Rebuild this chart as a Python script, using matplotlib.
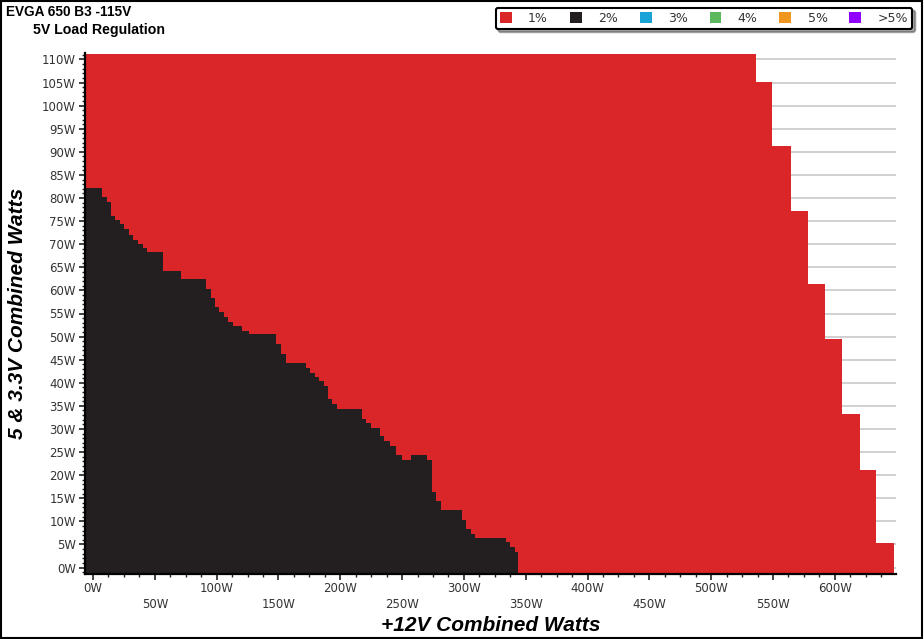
"""
EVGA 650 B3 - 5V load regulation map.
"""

import matplotlib.pyplot as plt
from matplotlib.patches import Patch, Rectangle
from matplotlib.ticker import MultipleLocator

# 1% zone: right edge (+12V watts) for each 5V & 3.3V band
red_y_edges = [-1.4, 5.3, 21.2, 33.3, 49.4, 61.3, 77.2, 91.2, 105.2, 111.2]
red_right = [647.9, 633.7, 620.2, 605.9, 591.9, 578.4, 564.2, 549.6, 536.1]

# 2% zone: top edge (5V & 3.3V watts) along +12V watts
black_x_edges = [-6.5, 7.0, 11.1, 14.3, 17.8, 21.8, 25.3, 29.1, 32.6, 36.6,
                 40.7, 43.4, 56.8, 70.9, 91.4, 95.2, 98.6, 102.1, 105.9, 109.4,
                 113.4, 120.2, 126.4, 148.2, 151.8, 155.8, 172.2, 175.5, 179.5,
                 183.0, 186.8, 190.3, 193.0, 197.1, 217.3, 220.7, 224.5, 232.1,
                 235.5, 240.2, 245.0, 249.6, 257.1, 269.8, 273.9, 277.3, 281.4,
                 298.1, 301.6, 305.4, 308.9, 333.7, 337.2, 341.2, 343.9]
black_top = [82.2, 80.3, 79.1, 76.2, 75.3, 74.3, 73.2, 72.1, 71.0, 70.1,
             69.2, 68.3, 64.3, 62.5, 60.3, 58.4, 56.4, 55.3, 54.2, 53.1,
             52.4, 51.3, 50.5, 48.3, 46.3, 44.2, 43.2, 42.2, 41.2, 40.3,
             39.3, 36.4, 35.3, 34.4, 32.2, 31.2, 30.2, 28.4, 27.3, 26.4,
             24.3, 23.3, 24.3, 23.3, 16.3, 14.5, 12.5, 10.3, 8.4, 7.3,
             6.3, 5.5, 4.4, 3.3]

legend_labels = ['1%', '2%', '3%', '4%', '5%', '>5%']
legend_colors = ['#da2529', '#231f20', '#1aa3d6', '#5cb85c', '#f0961f', '#9100ff']

x_ticks = list(range(0, 601, 50))
x_labels = ['%dW' % v for v in x_ticks]
y_ticks = list(range(0, 111, 5))
y_labels = ['%dW' % v for v in y_ticks]

fig = plt.figure(figsize=(9.24, 6.39), dpi=100)
ax = fig.add_axes([85 / 924, 1 - 574 / 639, (896 - 85) / 924, (574 - 53) / 639])

ax.stairs(red_right, red_y_edges, orientation='horizontal',
          baseline=black_x_edges[0], fill=True, color=legend_colors[0], zorder=2)
ax.stairs(black_top, black_x_edges, baseline=red_y_edges[0],
          fill=True, color=legend_colors[1], zorder=3)

ax.set_xlim(black_x_edges[0], 649.5)
ax.set_ylim(red_y_edges[0], 111.4)

# grid and axes
ax.set_axisbelow(True)
ax.yaxis.grid(True, color='#c8c8c8', linewidth=1.2)
for side in ['top', 'right']:
    ax.spines[side].set_visible(False)
for side in ['left', 'bottom']:
    ax.spines[side].set_linewidth(1.6)
    ax.spines[side].set_zorder(5)

ax.set_xticks(x_ticks)
ax.set_xticklabels(x_labels)
ax.xaxis.set_minor_locator(MultipleLocator(12.5))
ax.set_yticks(y_ticks)
ax.set_yticklabels(y_labels)
ax.yaxis.set_minor_locator(MultipleLocator(1))

ax.tick_params(which='major', length=4.5, width=1.2, color='#222222',
               labelsize=8.5, labelcolor='#333333')
ax.tick_params(which='minor', length=2.5, width=1, color='#222222')
ax.tick_params(axis='y', pad=2)
for i, tick in enumerate(ax.xaxis.get_major_ticks()):
    tick.set_pad(1 if i % 2 == 0 else 13)

ax.set_xlabel('+12V Combined Watts', fontsize=15, fontweight='bold',
              style='italic', family='Liberation Sans')
ax.set_ylabel('5 & 3.3V Combined Watts', fontsize=15, fontweight='bold',
              style='italic', family='Liberation Sans')
ax.xaxis.set_label_coords(0.5, -0.08)
ax.yaxis.set_label_coords(-0.071, 0.5)

# titles
fig.text(6 / 924, 1 - 12 / 639, 'EVGA 650 B3 -115V', fontsize=9.8,
         fontweight='bold', family='Liberation Sans', va='center')
fig.text(33 / 924, 1 - 30 / 639, '5V Load Regulation', fontsize=10.2,
         fontweight='bold', family='Liberation Sans', va='center')

# legend
handles = [Patch(facecolor=c, edgecolor='none') for c in legend_colors]
leg = fig.legend(handles, legend_labels, ncol=6, loc='center',
                 bbox_to_anchor=(704 / 924, 1 - 18.5 / 639),
                 fontsize=9, frameon=True, fancybox=True, shadow=True,
                 handlelength=0.95, handleheight=0.95, handletextpad=1.3,
                 columnspacing=1.75, borderpad=0.35, borderaxespad=0)
leg.get_frame().set_edgecolor('black')
leg.get_frame().set_linewidth(1.5)
for t in leg.get_texts():
    t.set_color('#333333')

# outer border
fig.patches.append(Rectangle((0.001, 0.001), 0.997, 0.997, transform=fig.transFigure,
                             fill=False, edgecolor='black', linewidth=1.5))

fig.savefig('out.png', dpi=100, facecolor='white')
